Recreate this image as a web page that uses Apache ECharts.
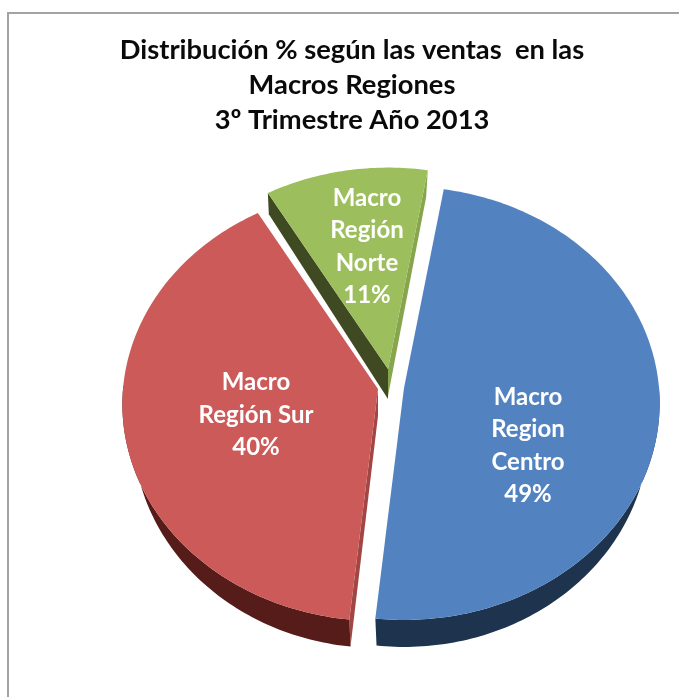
<!DOCTYPE html>
<html><head><meta charset="utf-8">
<style>html,body{margin:0;padding:0;background:#fff}#c{width:679px;height:697px}</style>
<script src="https://cdn.jsdelivr.net/npm/echarts@6/dist/echarts.min.js"></script>
</head><body><div id="c"></div>
<script>
const categories = ['Macro\nRegion\nCentro', 'Macro\nRegión Sur', 'Macro\nRegión\nNorte'];
const shares = [49, 40, 11];
const titleLines = ['Distribución % según las ventas  en las', 'Macros Regiones', '3º Trimestre Año 2013'];

const faceColors = ['#5283C0', '#CB5A58', '#9DBE5C'];
const wallColors = ['#1E334D', '#561C1A', '#3F4A22'];
const edgeColors = ['#3F6899', '#A24643', '#86A54C'];
const apexes = [[404, 388], [378, 389], [388, 369]];
const labelOffsets = [[124, 58], [-122, 26], [-21, -122]];

const startAngle = 9.6, A = 255, B = 215.6, K = 0.0705, SHRINK = 0.958;
const rad = d => d * Math.PI / 180;
const total = shares.reduce((a, b) => a + b, 0);
function project(apex, deg) {
  const u = Math.sin(rad(deg)), v = -Math.cos(rad(deg)), s = 1 / (1 - K * v);
  return [apex[0] + A * u * s, apex[1] + B * v * s, v];
}
const depth = v => 27;
const cutDepth = v => 30 + 10 * Math.min(v, 0);

function renderItem(params, api) {
  const i = params.dataIndex;
  let before = 0;
  for (let k = 0; k < i; k++) before += shares[k];
  const a0 = startAngle + before / total * 360;
  const a1 = a0 + api.value(0) / total * 360;
  const apex = apexes[i];
  const down = p => [apex[0] + (p[0] - apex[0]) * SHRINK, p[1] + depth(p[2])];
  const arc = [];
  const n = Math.ceil(a1 - a0);
  for (let k = 0; k <= n; k++) arc.push(project(apex, a0 + (a1 - a0) * k / n));
  const apex3 = [apex[0], apex[1], 0];
  const children = [];
  const poly = (pts, fill) => children.push({ type: 'polygon', shape: { points: pts.map(p => [p[0], p[1]]) }, style: { fill: fill } });
  const cutFace = (P, facing) => {
    if (facing <= 0) return;
    if (facing > 0.3) poly([apex3, P, [P[0] + 1, P[1] + cutDepth(P[2])], [apex[0], apex[1] + cutDepth(0)]], wallColors[i]);
    else poly([apex3, P, down(P), down(apex3)], edgeColors[i]);
  };
  // cut faces turned to the viewer: the more they face us, the darker they read
  cutFace(arc[0], -Math.cos(rad(a0 - 90)));
  cutFace(arc[arc.length - 1], -Math.cos(rad(a1 + 90)));
  // rim facing the viewer
  const front = arc.filter(p => p[2] > -0.02);
  if (front.length > 1) poly(front.concat(front.slice().reverse().map(down)), wallColors[i]);
  // top face
  poly([apex3].concat(arc), faceColors[i]);
  const off = labelOffsets[i];
  children.push({
    type: 'text',
    style: {
      x: apex[0] + off[0], y: apex[1] + off[1],
      text: api.value(1) + '\n' + api.value(0) + '%',
      fill: '#fff', align: 'center', verticalAlign: 'middle',
      font: 'bold 24px Lato', lineHeight: 32.5
    }
  });
  return { type: 'group', children: children };
}

const chart = echarts.init(document.getElementById('c'), null, { renderer: 'canvas' });
chart.setOption({
  animation: false,
  backgroundColor: '#fff',
  graphic: [{ type: 'rect', shape: { x: 8, y: 13, width: 720, height: 740 }, style: { fill: 'none', stroke: '#A3A3A3', lineWidth: 2 }, z: -1 }],
  title: {
    text: titleLines.join('\n'), left: 347, top: 28, textAlign: 'center',
    textStyle: { fontFamily: 'Lato', fontWeight: 'bold', fontSize: 27.3, lineHeight: 35, color: '#0a0a0a' }
  },
  series: [{
    type: 'custom', coordinateSystem: 'none', renderItem: renderItem,
    data: shares.map((v, i) => [v, categories[i]]),
    encode: { value: 0 }
  }]
});
</script></body></html>
